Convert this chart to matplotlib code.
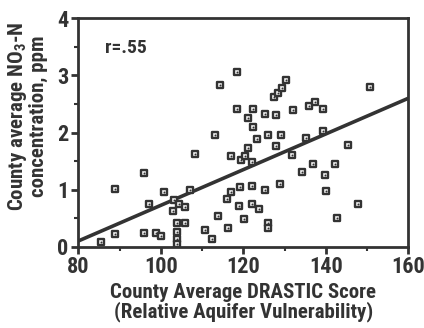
import matplotlib
matplotlib.use('Agg')
import matplotlib.pyplot as plt
import matplotlib.ticker as mtick

# county average DRASTIC score vs county average NO3-N (ppm)
drastic = [85.5, 88.8, 88.8, 96.0, 96.0, 97.1, 98.8, 100.0, 100.8, 102.9,
           103.1, 103.9, 103.9, 103.9, 103.9, 104.3, 105.8, 105.9, 107.0, 108.3,
           110.8, 112.3, 113.0, 113.9, 114.4, 116.0, 116.3, 116.9, 116.9, 118.4,
           118.4, 119.0, 119.3, 119.4, 120.2, 120.4, 121.1, 121.1, 122.0, 122.0,
           122.2, 122.3, 122.3, 123.4, 123.7, 125.2, 125.3, 125.9, 126.0, 126.0,
           127.4, 128.0, 128.0, 128.3, 128.9, 129.1, 129.3, 130.4, 131.7, 132.0,
           134.1, 135.1, 135.9, 136.9, 137.4, 139.2, 139.3, 139.9, 140.0, 142.2,
           142.7, 145.3, 147.8, 150.7]
nitrate = [0.09, 0.23, 1.01, 0.24, 1.29, 0.74, 0.24, 0.19, 0.95, 0.62,
           0.82, 0.25, 0.14, 0.05, 0.41, 0.74, 0.41, 0.69, 1.00, 1.62,
           0.29, 0.13, 1.95, 0.54, 2.84, 0.83, 0.33, 1.59, 0.95, 3.06,
           2.41, 0.71, 1.05, 1.51, 0.49, 1.59, 2.25, 1.72, 1.07, 0.74,
           1.49, 2.41, 2.09, 1.89, 0.66, 2.32, 1.00, 1.96, 0.42, 0.32,
           2.62, 2.30, 1.77, 2.70, 1.10, 1.95, 2.78, 2.92, 1.61, 2.40,
           1.30, 1.91, 2.47, 1.45, 2.54, 2.03, 2.42, 1.26, 0.98, 1.44,
           0.51, 1.78, 0.74, 2.80]

# regression line end points
fit_x = [80, 160]
fit_y = [0.10, 2.60]

ink = '#333333'
plt.rcParams['font.family'] = ['Roboto Condensed', 'DejaVu Sans']
plt.rcParams['font.weight'] = 'bold'
plt.rcParams['mathtext.fontset'] = 'custom'
plt.rcParams['mathtext.rm'] = 'Roboto Condensed:bold'
plt.rcParams['mathtext.default'] = 'rm'

fig = plt.figure(figsize=(4.24, 3.28), dpi=100)
ax = fig.add_axes([0.185, 0.248, 0.778, 0.696])

ax.plot(fit_x, fit_y, color=ink, lw=2.6, solid_capstyle='butt', zorder=2)
ax.scatter(drastic, nitrate, marker='s', s=17, facecolor='#f4f4f4',
           edgecolor=ink, linewidths=1.7, zorder=3)
ax.scatter(drastic, nitrate, marker='o', s=2, color=ink, linewidths=0, zorder=4)

ax.set_xlim(80, 160)
ax.set_ylim(0, 4)
ax.xaxis.set_major_locator(mtick.MultipleLocator(20))
ax.xaxis.set_minor_locator(mtick.MultipleLocator(10))
ax.yaxis.set_major_locator(mtick.MultipleLocator(1))
ax.yaxis.set_minor_locator(mtick.MultipleLocator(0.5))

for s in ax.spines.values():
    s.set_color(ink)
    s.set_linewidth(2.0)

ax.tick_params(which='major', direction='out', length=5, width=2, color=ink,
               labelsize=16, labelcolor=ink, pad=2)
ax.tick_params(which='minor', direction='out', length=3, width=1.5, color=ink)

ax.set_xlabel('County Average DRASTIC Score\n(Relative Aquifer Vulnerability)',
              fontsize=15, color=ink, fontweight='bold', linespacing=1.0, labelpad=3)
ax.set_ylabel('County average NO$_3$-N\nconcentration, ppm',
              fontsize=15, color=ink, fontweight='bold', linespacing=1.0)
ax.yaxis.set_label_coords(-0.093, 0.57)

ax.text(0.08, 0.87, 'r=.55', transform=ax.transAxes, fontsize=14,
        fontweight='bold', color=ink, va='center', ha='left')

fig.savefig('out.png', dpi=100)
